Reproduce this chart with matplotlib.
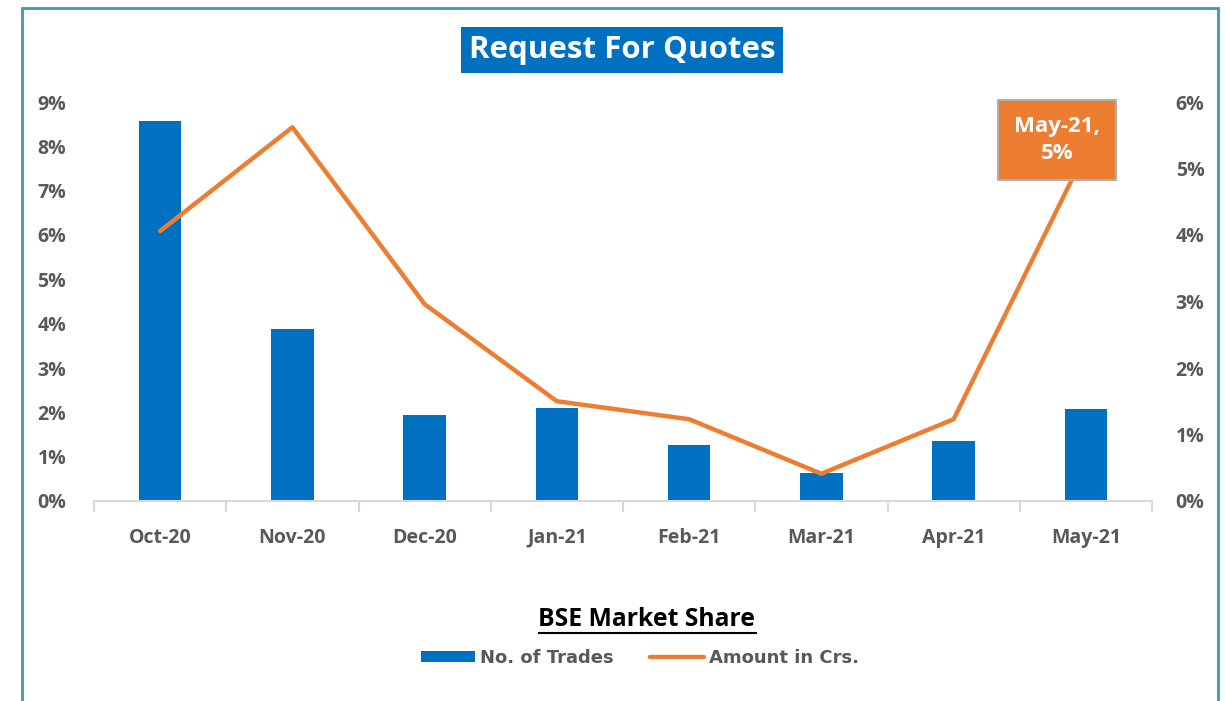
import numpy as np
import matplotlib.pyplot as plt
from matplotlib.patches import Rectangle
from matplotlib.lines import Line2D
from matplotlib.ticker import FuncFormatter, FixedLocator

months = ['Oct-20', 'Nov-20', 'Dec-20', 'Jan-21', 'Feb-21', 'Mar-21', 'Apr-21', 'May-21']
trades = [8.58, 3.88, 1.94, 2.10, 1.26, 0.63, 1.35, 2.08]      # left axis, %
amount = [4.06, 5.62, 2.96, 1.50, 1.23, 0.41, 1.23, 5.26]      # right axis, %

blue = '#0070C0'
orange = '#ED7D31'
grey = '#595959'
fam = ['Open Sans', 'DejaVu Sans']

fig = plt.figure(figsize=(12.25, 7.01), dpi=100)
ax = fig.add_axes([94/1225, 1-501/701, (1152-94)/1225, (501-102)/701])
x = np.arange(len(months))

ax.bar(x, trades, width=0.32, color=blue, zorder=2)
ax.set_xlim(-0.5, len(months)-0.5)
ax.set_ylim(0, 9)
ax.set_yticks(range(0, 10))
ax.yaxis.set_major_formatter(FuncFormatter(lambda v, p: '%d%%' % v))
ax.set_xticks(x)
ax.set_xticklabels(months, va='baseline')
ax.xaxis.set_minor_locator(FixedLocator(np.arange(-0.5, len(months), 1)))
ax.tick_params(axis='x', which='major', length=0, pad=30)
ax.tick_params(axis='x', which='minor', length=8, color='#d9d9d9', width=1.5)
ax.tick_params(axis='y', length=0, pad=20)
for s in ['top', 'right', 'left']:
    ax.spines[s].set_visible(False)
ax.spines['bottom'].set_color('#d9d9d9')
ax.spines['bottom'].set_linewidth(1.5)

ax2 = ax.twinx()
ax2.plot(x, amount, color=orange, lw=3.2, solid_capstyle='round', zorder=3)
ax2.set_ylim(0, 6)
ax2.set_yticks(range(0, 7))
ax2.yaxis.set_major_formatter(FuncFormatter(lambda v, p: '%d%%' % v))
ax2.tick_params(axis='y', length=0, pad=17)
for s in ax2.spines.values():
    s.set_visible(False)

for lab in ax.get_xticklabels() + ax.get_yticklabels() + ax2.get_yticklabels():
    lab.set_fontfamily(fam)
    lab.set_fontweight('bold')
    lab.set_fontsize(14)
    lab.set_color(grey)

# data label on last point
ax2.annotate('May-21,\n5%', xy=(x[-1], amount[-1]), xytext=(-21, 8),
             textcoords='offset points', ha='center', va='center',
             fontsize=16, fontweight='bold', color='white', family=fam,
             linespacing=1.35,
             bbox=dict(boxstyle='square,pad=0.72', fc=orange, ec='#b0b0b0', lw=1.5))

# title
fig.text(622/1225, 1-50/701, 'Request For Quotes', ha='center', va='center',
         fontsize=22.5, fontweight='bold', color='white', family=fam,
         bbox=dict(boxstyle='square,pad=0.25', fc=blue, ec='none'))

# legend title, underlined
lt = fig.text(647/1225, 1-619/701, 'BSE Market Share', ha='center', va='center',
              fontsize=17.8, fontweight='bold', color='black', family=fam)
fig.canvas.draw()
bb = lt.get_window_extent().transformed(fig.transFigure.inverted())
fig.add_artist(Line2D([bb.x0, bb.x1], [bb.y0 - 0.002, bb.y0 - 0.002],
                      transform=fig.transFigure, color='black', lw=1.5))

handles = [Rectangle((0, 0), 1, 1, fc=blue, ec='none'),
           Line2D([], [], color=orange, lw=3.2, solid_capstyle='round')]
leg = fig.legend(handles, ['No. of Trades', 'Amount in Crs.'], ncol=2,
                 loc='center', bbox_to_anchor=(640/1225, 1-658/701), frameon=False,
                 handlelength=3.0, handleheight=0.55, handletextpad=0.3,
                 columnspacing=2.0, prop={'size': 13, 'weight': 'bold'})
for t in leg.get_texts():
    t.set_color(grey)

# outer border
fig.add_artist(Rectangle((22/1225, -0.05), (1218-22)/1225, 1.05-8/701,
                         transform=fig.transFigure, fill=False,
                         ec='#3d97b5', lw=2))

fig.savefig('out.png', dpi=100)
